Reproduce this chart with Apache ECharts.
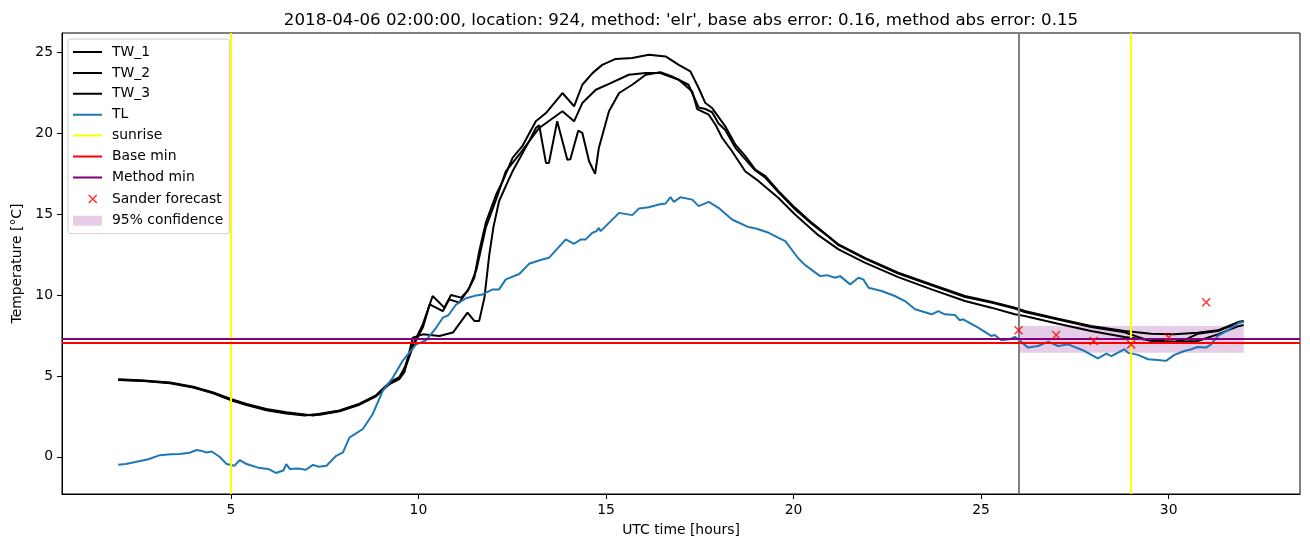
<!DOCTYPE html>
<html>
<head>
<meta charset="utf-8">
<script src="https://cdn.jsdelivr.net/npm/echarts@6/dist/echarts.min.js"></script>
<style>html,body{margin:0;padding:0;background:#fff}#chart{width:1310px;height:547px}</style>
</head>
<body>
<div id="chart"></div>
<script>
// ---------------- data ----------------
const titleText = "2018-04-06 02:00:00, location: 924, method: 'elr', base abs error: 0.16, method abs error: 0.15";
const xTicks = [5, 10, 15, 20, 25, 30];
const yTicks = [0, 5, 10, 15, 20, 25];

const tw1Hours = [2.0,2.67,3.38,4.0,4.53,5.0,5.42,5.95,6.48,6.97,7.2,7.37,7.9,8.43,8.87,9.23,9.49,9.63,9.85,10.12,10.38,10.69,10.87,11.14,11.31,11.49,11.62,11.8,12.07,12.24,12.51,12.77,13.13,13.4,13.84,14.15,14.37,14.64,14.9,15.26,15.7,16.14,16.59,16.94,17.25,17.47,17.65,17.83,18.18,18.45,18.71,18.98,19.25,19.6,20.04,20.49,20.93,21.2,21.9,22.79,23.68,24.57,25.27,25.9,26.16,27.05,27.93,28.82,29.53,30.15,30.77,31.31,31.88,32.0];
const tw1Temps = [4.80,4.72,4.60,4.33,3.98,3.57,3.27,2.95,2.75,2.62,2.55,2.66,2.87,3.28,3.80,4.60,4.92,5.50,6.90,8.20,9.94,9.22,10.0,9.84,10.25,11.07,12.7,14.5,16.2,17.0,18.48,19.2,20.74,21.25,22.49,21.67,23.0,23.72,24.23,24.6,24.65,24.85,24.75,24.23,23.83,22.8,21.87,21.56,20.43,19.3,18.6,17.76,17.35,16.42,15.39,14.46,13.64,13.13,12.3,11.38,10.66,9.94,9.59,9.22,9.01,8.54,8.09,7.78,7.61,7.57,7.67,7.82,8.35,8.4];

const tw2Hours = [2.0,2.67,3.38,4.0,4.53,5.0,5.42,5.95,6.48,6.97,7.2,7.37,7.9,8.43,8.87,9.23,9.49,9.63,9.85,10.12,10.3,10.65,10.82,11.09,11.36,11.55,11.8,12.07,12.33,12.69,13.22,13.84,14.15,14.37,14.73,15.08,15.61,16.06,16.45,16.94,17.3,17.43,17.74,17.92,18.1,18.36,18.71,19.07,19.6,20.04,20.66,21.2,21.9,22.79,23.68,24.57,25.27,25.9,26.16,27.05,27.93,28.82,29.53,30.15,30.77,31.31,31.88,32.0];
const tw2Temps = [4.74,4.68,4.55,4.28,3.93,3.50,3.20,2.88,2.68,2.56,2.62,2.60,2.82,3.22,3.74,4.52,4.85,5.35,6.80,8.00,9.42,9.00,9.73,9.53,10.45,11.6,14.2,15.9,17.65,18.69,20.33,21.36,20.74,21.87,22.69,23.05,23.62,23.72,23.72,23.31,22.59,21.5,21.15,20.53,19.71,18.89,17.65,17.04,16.0,14.98,13.7,12.82,12.0,11.11,10.35,9.63,9.22,8.81,8.7,8.23,7.78,7.41,7.2,7.12,7.16,7.57,8.09,8.15];

const tw3Hours = [2.0,2.67,3.38,4.0,4.53,5.0,5.42,5.95,6.48,6.97,7.2,7.37,7.9,8.43,8.87,9.23,9.49,9.63,9.85,10.12,10.56,10.92,11.31,11.49,11.62,11.76,11.89,12.0,12.15,12.38,12.51,12.95,13.13,13.22,13.4,13.48,13.7,13.97,14.05,14.26,14.37,14.55,14.71,14.81,15.08,15.35,15.7,16.06,16.45,16.76,17.2,17.47,17.65,17.83,18.0,18.18,18.45,18.71,18.98,19.25,19.6,20.04,20.49,20.93,21.2,21.9,22.79,23.68,24.57,25.27,25.9,26.16,27.05,27.93,28.82,29.2,29.53,30.15,30.5,30.77,31.31,31.88,32.0];
const tw3Temps = [4.77,4.70,4.57,4.30,3.95,3.53,3.23,2.91,2.71,2.59,2.60,2.63,2.85,3.25,3.76,4.50,4.80,5.25,7.37,7.57,7.47,7.68,8.91,8.4,8.4,9.84,12.5,14.2,15.8,17.0,17.65,19.5,20.33,20.5,18.17,18.17,20.74,18.37,18.4,20.16,20.02,18.27,17.49,19.09,21.36,22.49,23.0,23.62,23.78,23.52,23.0,21.6,21.5,21.3,20.6,20.2,19.1,18.4,17.7,17.25,16.35,15.3,14.4,13.6,13.08,12.25,11.33,10.6,9.88,9.53,9.16,8.95,8.48,8.03,7.7,7.4,7.15,7.1,7.3,7.6,7.78,8.3,8.35];

const tlHours = [2.0,2.2,2.49,2.8,3.11,3.4,3.64,3.9,4.09,4.2,4.35,4.49,4.7,4.89,5.1,5.24,5.42,5.77,6.0,6.2,6.4,6.48,6.57,6.8,7.0,7.19,7.35,7.55,7.81,7.99,8.16,8.52,8.78,9.05,9.32,9.58,9.94,10.2,10.45,10.65,10.8,11.0,11.27,11.5,11.71,11.98,12.15,12.33,12.69,12.95,13.3,13.48,13.93,14.15,14.33,14.46,14.64,14.75,14.81,14.86,15.08,15.35,15.7,15.88,16.14,16.41,16.59,16.72,16.81,16.99,17.3,17.47,17.74,18.0,18.36,18.8,19.02,19.34,19.6,19.78,20.13,20.31,20.71,20.89,21.11,21.24,21.51,21.73,21.86,22.0,22.35,22.7,22.97,23.24,23.68,23.86,24.03,24.3,24.43,24.52,24.92,25.27,25.36,25.54,25.76,25.9,25.99,26.25,26.52,26.79,27.05,27.32,27.76,28.11,28.34,28.47,28.65,28.82,28.91,29.18,29.45,29.71,29.93,30.15,30.42,30.6,30.77,31.0,31.13,31.31,31.57,31.88,32.0];
const tlTemps = [-0.49,-0.45,-0.3,-0.15,0.1,0.15,0.18,0.25,0.42,0.38,0.27,0.33,0.0,-0.45,-0.55,-0.2,-0.45,-0.7,-0.75,-1.0,-0.85,-0.45,-0.75,-0.72,-0.8,-0.5,-0.62,-0.55,0.06,0.27,1.19,1.72,2.63,4.07,4.9,5.93,6.95,7.2,7.9,8.6,8.75,9.4,9.8,9.95,10.04,10.35,10.35,10.97,11.3,11.93,12.2,12.3,13.44,13.17,13.44,13.44,13.85,13.95,14.15,13.95,14.46,15.08,14.94,15.35,15.43,15.6,15.66,16.05,15.76,16.05,15.9,15.5,15.76,15.39,14.67,14.2,14.1,13.85,13.54,13.33,12.26,11.85,11.17,11.23,11.07,11.17,10.66,11.07,10.97,10.45,10.25,9.94,9.63,9.12,8.81,9.01,8.81,8.77,8.44,8.5,7.98,7.47,7.53,7.2,7.26,7.41,7.26,6.75,6.85,7.12,6.85,6.95,6.54,6.09,6.38,6.23,6.44,6.65,6.44,6.3,6.03,5.99,5.93,6.3,6.54,6.65,6.79,6.75,6.95,7.47,7.82,8.29,8.35];

const sunriseHours = [5, 29];
const forecastStartHour = 26;
const baseMin = 7.02;
const methodMin = 7.30;
const sanderHours = [26, 27, 28, 29, 30, 31];
const sanderTemps = [7.82, 7.53, 7.16, 6.95, 7.37, 9.55];
const confHours = [26, 32];
const confLow = 6.44;
const confHigh = 8.09;

// ---------------- chart ----------------
const zip = (a, b) => a.map((v, i) => [v, b[i]]);
const FONT = 'DejaVu Sans';
const TICK_FS = 13.9;
const chart = echarts.init(document.getElementById('chart'), null, {renderer: 'canvas'});

const lineSeries = (name, xs, ys, color) => ({
  name, type: 'line', data: zip(xs, ys), symbol: 'none', showSymbol: false,
  lineStyle: {color, width: 2}, itemStyle: {color}, z: 3, silent: true,
  emphasis: {disabled: true}, animation: false
});
const mlBase = {symbol: ['none', 'none'], label: {show: false}, silent: true, emphasis: {disabled: true}, animation: false};

const xSymbol = 'path://M0,0L10,10M10,0L0,10';
// legend icons: tiny corner points fix the bounding box so that shapes keep their drawn size
const lineIcon = 'path://M0,0L0.01,0M0,6L29,6L29,8L0,8ZM0,14L0.01,14';
const xIcon = 'path://M0,0L0.01,0M10.5,3L18.5,11M18.5,3L10.5,11M0,14L0.01,14';
const rectIcon = 'path://M0,0L0.01,0M0,2L29,2L29,12L0,12ZM0,14L0.01,14';
const lineItem = (name, color) => ({name, icon: lineIcon, itemStyle: {color, borderWidth: 0}});

const option = {
  animation: false,
  backgroundColor: '#fff',
  title: {
    text: titleText, left: 676, top: 7, textAlign: 'center',
    textStyle: {fontFamily: FONT, fontSize: 16.67, fontWeight: 'normal', color: '#000'}
  },
  grid: {left: 62, right: 10, top: 33, bottom: 53, show: true, borderColor: '#000', borderWidth: 1, backgroundColor: 'transparent'},
  xAxis: {
    type: 'value', min: 0.5, max: 33.5,
    name: 'UTC time [hours]', nameLocation: 'middle', nameGap: 29,
    nameTextStyle: {fontFamily: FONT, fontSize: TICK_FS, color: '#000'},
    axisLine: {show: true, onZero: false, lineStyle: {color: '#000', width: 1}},
    axisTick: {show: true, customValues: xTicks, length: 5, lineStyle: {color: '#000'}},
    axisLabel: {customValues: xTicks, margin: 9, fontFamily: FONT, fontSize: TICK_FS, color: '#000'},
    splitLine: {show: false}
  },
  yAxis: {
    type: 'value', min: -2.3, max: 26.2,
    name: 'Temperature [°C]', nameLocation: 'middle', nameGap: 38,
    nameTextStyle: {fontFamily: FONT, fontSize: TICK_FS, color: '#000'},
    axisLine: {show: true, onZero: false, lineStyle: {color: '#000', width: 1}},
    axisTick: {show: true, customValues: yTicks, length: 5, lineStyle: {color: '#000'}},
    axisLabel: {customValues: yTicks, margin: 9, fontFamily: FONT, fontSize: TICK_FS, color: '#000'},
    splitLine: {show: false}
  },
  legend: {
    orient: 'vertical', left: 68, top: 39,
    padding: [6, 6, 6, 5], itemGap: 6.9, itemWidth: 29, itemHeight: 14,
    backgroundColor: 'rgba(255,255,255,0.8)', borderColor: '#cccccc', borderWidth: 1, borderRadius: 3,
    textStyle: {fontFamily: FONT, fontSize: TICK_FS, color: '#000', padding: [0, 0, 0, 5]},
    selectedMode: false,
    data: [
      lineItem('TW_1', '#000000'), lineItem('TW_2', '#000000'), lineItem('TW_3', '#000000'),
      lineItem('TL', '#1f77b4'), lineItem('sunrise', '#ffff00'), lineItem('Base min', '#ff0000'),
      lineItem('Method min', '#800080'),
      {name: 'Sander forecast', icon: xIcon, itemStyle: {color: 'rgba(0,0,0,0)', borderColor: '#ff0000', borderWidth: 1.5}},
      {name: '95% confidence', icon: rectIcon, itemStyle: {color: 'rgba(128,0,128,0.2)', borderWidth: 0}}
    ]
  },
  series: [
    {
      name: '95% confidence', type: 'line', data: [], z: 1, silent: true,
      itemStyle: {color: 'rgba(128,0,128,0.2)'}, lineStyle: {color: 'rgba(128,0,128,0.2)'},
      markArea: {silent: true, itemStyle: {color: 'rgba(128,0,128,0.2)'}, label: {show: false},
        data: [[{xAxis: confHours[0], yAxis: confLow}, {xAxis: confHours[1], yAxis: confHigh}]]}
    },
    lineSeries('TW_1', tw1Hours, tw1Temps, '#000000'),
    lineSeries('TW_2', tw2Hours, tw2Temps, '#000000'),
    lineSeries('TW_3', tw3Hours, tw3Temps, '#000000'),
    lineSeries('TL', tlHours, tlTemps, '#1f77b4'),
    {
      name: 'sunrise', type: 'line', data: [], symbol: 'none', z: 4,
      itemStyle: {color: '#ffff00'}, lineStyle: {color: '#ffff00', width: 2},
      markLine: Object.assign({}, mlBase, {lineStyle: {color: '#ffff00', width: 2, type: 'solid'},
        data: sunriseHours.map(h => ({xAxis: h}))})
    },
    {
      name: 'forecast start', type: 'line', data: [], symbol: 'none', z: 4,
      markLine: Object.assign({}, mlBase, {lineStyle: {color: '#808080', width: 2, type: 'solid'},
        data: [{xAxis: forecastStartHour}]})
    },
    {
      name: 'Base min', type: 'line', data: [], symbol: 'none', z: 4,
      itemStyle: {color: '#ff0000'}, lineStyle: {color: '#ff0000', width: 2},
      markLine: Object.assign({}, mlBase, {lineStyle: {color: '#ff0000', width: 2, type: 'solid'},
        data: [{yAxis: baseMin}]})
    },
    {
      name: 'Method min', type: 'line', data: [], symbol: 'none', z: 4,
      itemStyle: {color: '#800080'}, lineStyle: {color: '#800080', width: 2},
      markLine: Object.assign({}, mlBase, {lineStyle: {color: '#800080', width: 2, type: 'solid'},
        data: [{yAxis: methodMin}]})
    },
    {
      name: 'Sander forecast', type: 'scatter', data: zip(sanderHours, sanderTemps), z: 5,
      symbol: xSymbol, symbolSize: 8, silent: true,
      itemStyle: {color: 'rgba(0,0,0,0)', borderColor: '#ff0000', borderWidth: 1.5}
    }
  ]
};
chart.setOption(option);
</script>
</body>
</html>
